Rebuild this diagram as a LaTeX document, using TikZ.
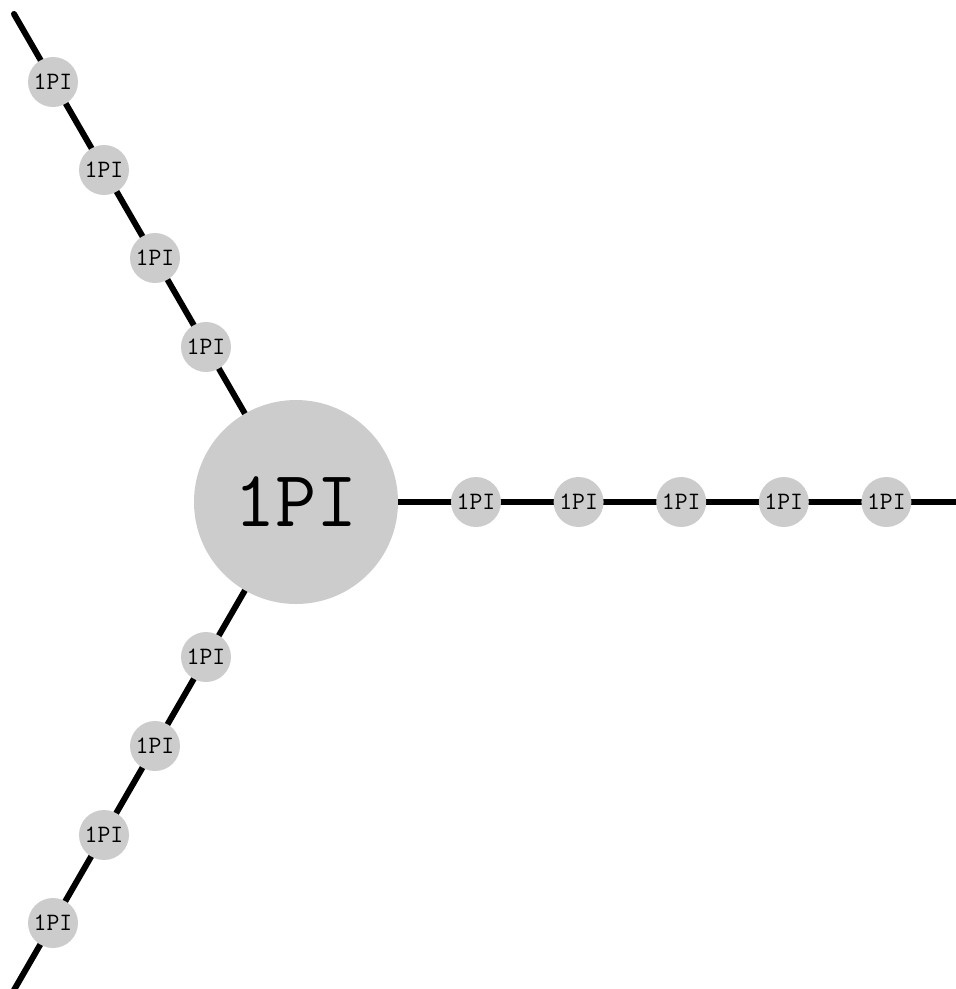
\documentclass[tikz,border=0pt]{standalone}
\begin{document}
\begin{tikzpicture}[x=1pt,y=-1pt,
  leg/.style={line width=6pt,line cap=round,draw=black},
  bigv/.style={circle,fill=black!20,minimum size=204pt,inner sep=0pt,font=\fontsize{80}{80}\selectfont\ttfamily},
  smallv/.style={circle,fill=black!20,minimum size=50pt,inner sep=0pt,font=\fontsize{25}{25}\selectfont\ttfamily}]
\useasboundingbox (0,0) rectangle (956,989);
\coordinate (c) at (296,502);
\coordinate (eR) at (962,502);
\coordinate (eU) at (14,14);
\coordinate (eD) at (14,990);
\draw[leg] (c) -- (eR);
\draw[leg] (c) -- (eU);
\draw[leg] (c) -- (eD);
\node[bigv] (big) at (c) {1PI};
\node[smallv] (r1) at (476,502) {1PI};
\node[smallv] (r2) at (578.6,502) {1PI};
\node[smallv] (r3) at (681.2,502) {1PI};
\node[smallv] (r4) at (783.8,502) {1PI};
\node[smallv] (r5) at (886.4,502) {1PI};
\node[smallv] (u1) at (206,347) {1PI};
\node[smallv] (u2) at (155,258) {1PI};
\node[smallv] (u3) at (104,170) {1PI};
\node[smallv] (u4) at (53,82) {1PI};
\node[smallv] (d1) at (206,657) {1PI};
\node[smallv] (d2) at (155,746) {1PI};
\node[smallv] (d3) at (104,835) {1PI};
\node[smallv] (d4) at (53,923) {1PI};
\end{tikzpicture}
\end{document}
